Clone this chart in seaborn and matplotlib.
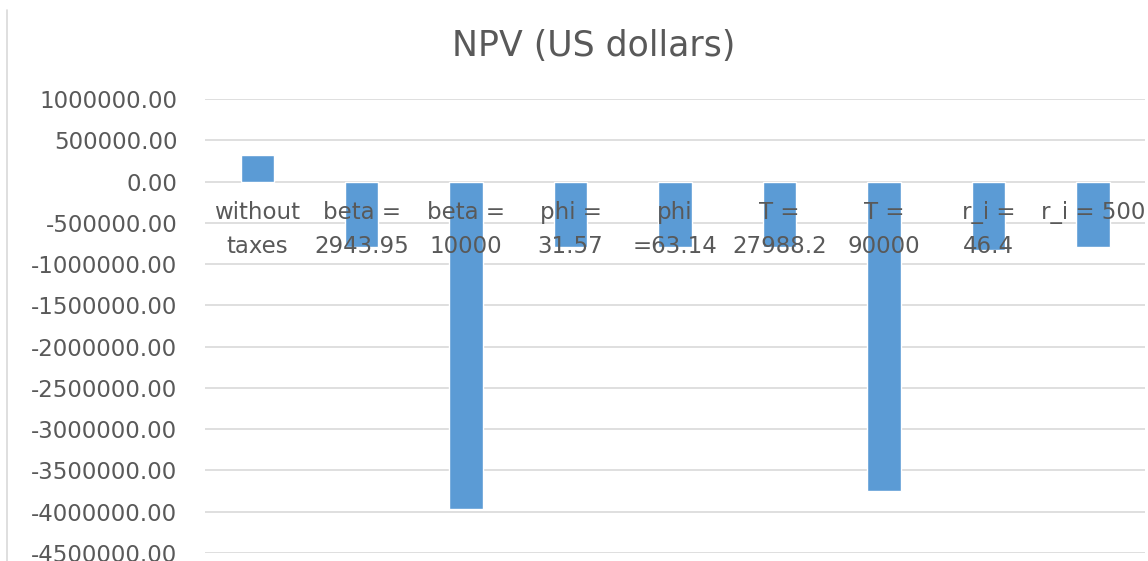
import matplotlib
matplotlib.use("Agg")
import matplotlib.pyplot as plt
import seaborn as sns
import pandas as pd
from matplotlib.ticker import FormatStrFormatter, MultipleLocator
from matplotlib.lines import Line2D

categories = ["without\ntaxes", "beta =\n2943.95", "beta =\n10000", "phi =\n31.57",
              "phi\n=63.14", "T =\n27988.2", "T =\n90000", "r_i =\n46.4", "r_i = 500"]
npv = [318000, -790000, -3970000, -795000, -790000, -795000, -3750000, -830000, -795000]

df = pd.DataFrame({"case": categories, "npv": npv})

sns.set_theme(style="white")
plt.rcParams["font.family"] = ["DejaVu Sans"]
text_color = "#595959"

fig = plt.figure(figsize=(11.48, 5.61), dpi=100)
ax = fig.add_axes([0.1786, 0.0143, 0.8188, 0.8092])

sns.barplot(data=df, x="case", y="npv", color="#5B9BD5", saturation=1, width=0.32, ax=ax, zorder=2)

ax.set_ylim(-4500000, 1000000)
ax.yaxis.set_major_locator(MultipleLocator(500000))
ax.yaxis.set_major_formatter(FormatStrFormatter("%.2f"))
ax.grid(False)
ax.set_axisbelow(False)
for yv in ax.get_yticks():
    if -4500000 <= yv <= 1000000:
        ax.axhline(yv, color="#d9d9d9", linewidth=1.2, zorder=0.5)
for s in ax.spines.values():
    s.set_visible(False)
ax.spines["bottom"].set_position(("data", 0))
ax.set_xlabel("")
ax.set_ylabel("")
ax.tick_params(axis="y", length=0, pad=20, labelsize=16.5, labelcolor=text_color)
ax.tick_params(axis="x", length=0, pad=14, labelsize=16.5, labelcolor=text_color)
for lbl in ax.get_xticklabels():
    lbl.set_linespacing(1.6)
ax.set_xlim(-0.5, len(categories) - 0.5)
ax.set_ylim(-4500000, 1000000)

fig.text(0.517, 0.918, "NPV (US dollars)", ha="center", va="center", fontsize=25, color=text_color)
fig.add_artist(Line2D([0.0065, 0.0065], [0, 0.982], transform=fig.transFigure, color="#d9d9d9", linewidth=1.2))

fig.savefig("out.png", dpi=100)
